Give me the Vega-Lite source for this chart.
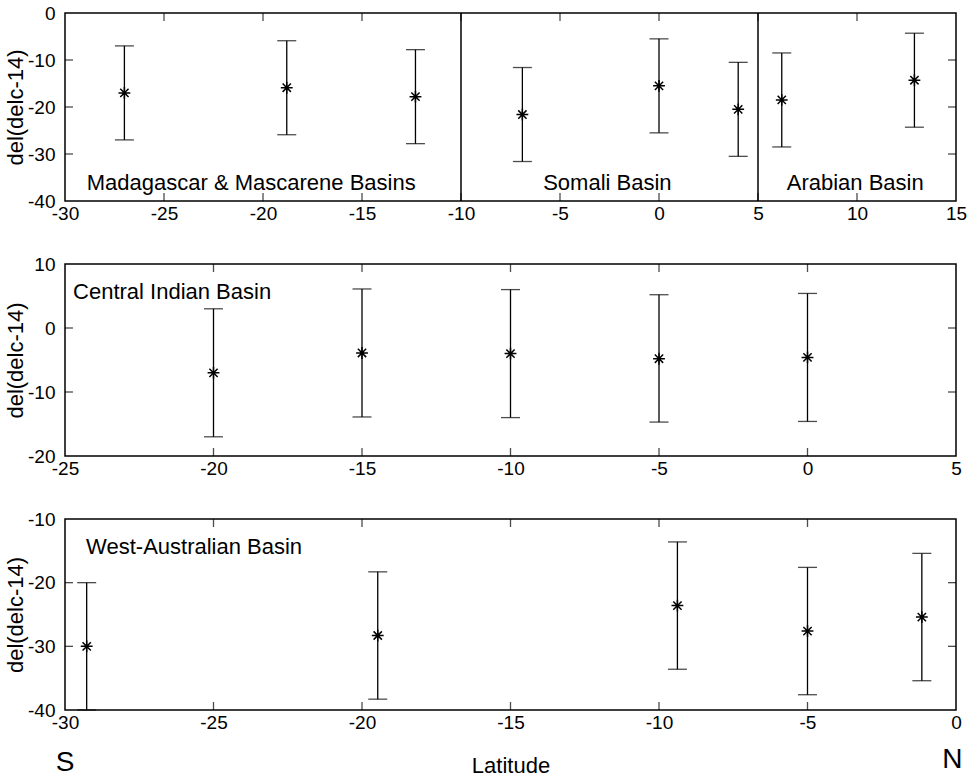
{
  "$schema": "https://vega.github.io/schema/vega-lite/v6.json",
  "background": "white",
  "padding": {"left": 3, "top": 3, "right": 12, "bottom": 2},
  "spacing": 30,
  "config": {
    "font": "Liberation Sans",
    "view": {"stroke": "black", "strokeWidth": 1.5},
    "axis": {
      "grid": false, "domain": false, "ticks": false,
      "labelFontSize": 19, "labelColor": "black", "labelFlush": false, "labelOverlap": false,
      "labelExpr": "datum.value < 0 ? '-' + abs(datum.value) : '' + datum.value",
      "titleFontSize": 22, "titleFontWeight": "normal", "titleColor": "black"
    },
    "axisX": {"labelPadding": 3},
    "axisY": {"labelPadding": 10, "titlePadding": 0},
    "tick": {"thickness": 1.3, "color": "black"}
  },
  "vconcat": [
    {
      "width": 891, "height": 188,
      "data": {"values": [
        {"lat": -27.0, "mean": -17.0, "lo": -27.0, "hi": -7.0},
        {"lat": -18.8, "mean": -15.9, "lo": -25.9, "hi": -5.9},
        {"lat": -12.3, "mean": -17.8, "lo": -27.8, "hi": -7.8},
        {"lat": -6.9, "mean": -21.6, "lo": -31.6, "hi": -11.6},
        {"lat": 0.0, "mean": -15.5, "lo": -25.5, "hi": -5.5},
        {"lat": 4.0, "mean": -20.5, "lo": -30.5, "hi": -10.5},
        {"lat": 6.2, "mean": -18.5, "lo": -28.5, "hi": -8.5},
        {"lat": 12.9, "mean": -14.3, "lo": -24.3, "hi": -4.3}
      ]},
      "encoding": {
        "x": {"type": "quantitative", "scale": {"domain": [-30, 15], "nice": false, "zero": false},
              "axis": {"orient": "bottom", "values": [-30, -25, -20, -15, -10, -5, 0, 5, 10, 15], "title": null}},
        "y": {"type": "quantitative", "scale": {"domain": [-40, 0], "nice": false, "zero": false},
              "axis": {"orient": "left", "values": [-40, -30, -20, -10, 0], "title": "del(delc-14)"}}
      },
      "layer": [
        {
          "mark": {"type": "rule", "color": "black", "strokeWidth": 1.3},
          "encoding": {"x": {"field": "lat"}, "y": {"field": "lo"}, "y2": {"field": "hi"}}
        },
        {"mark": {"type": "tick", "orient": "horizontal", "size": 19}, "encoding": {"x": {"field": "lat"}, "y": {"field": "lo"}}},
        {"mark": {"type": "tick", "orient": "horizontal", "size": 19}, "encoding": {"x": {"field": "lat"}, "y": {"field": "hi"}}},
        {
          "mark": {"type": "point", "shape": "M-1,0L1,0M0,-1L0,1M-0.7,-0.7L0.7,0.7M-0.7,0.7L0.7,-0.7", "filled": false, "stroke": "black", "strokeWidth": 1.5, "size": 140, "opacity": 1},
          "encoding": {"x": {"field": "lat"}, "y": {"field": "mean"}}
        },
        {
          "data": {"values": [{"lat": -10}, {"lat": 5}]},
          "mark": {"type": "rule", "color": "black", "strokeWidth": 1.5},
          "encoding": {"x": {"field": "lat"}}
        },
        {
          "data": {"values": [{"v": -25}, {"v": -20}, {"v": -15}, {"v": -10}, {"v": -5}, {"v": 0}, {"v": 5}, {"v": 10}]},
          "mark": {"type": "tick", "orient": "vertical", "size": 8, "yOffset": -4},
          "encoding": {"x": {"field": "v"}, "y": {"datum": -40}}
        },
        {
          "data": {"values": [{"v": -25}, {"v": -20}, {"v": -15}, {"v": -10}, {"v": -5}, {"v": 0}, {"v": 5}, {"v": 10}]},
          "mark": {"type": "tick", "orient": "vertical", "size": 8, "yOffset": 4},
          "encoding": {"x": {"field": "v"}, "y": {"datum": 0}}
        },
        {
          "data": {"values": [{"v": -30}, {"v": -20}, {"v": -10}]},
          "mark": {"type": "tick", "orient": "horizontal", "size": 8, "xOffset": 4},
          "encoding": {"y": {"field": "v"}, "x": {"datum": -30}}
        },
        {
          "data": {"values": [{"v": -30}, {"v": -20}, {"v": -10}]},
          "mark": {"type": "tick", "orient": "horizontal", "size": 8, "xOffset": -4},
          "encoding": {"y": {"field": "v"}, "x": {"datum": 15}}
        },
        {
          "data": {"values": [
            {"lat": -28.9, "val": -36.1, "label": "Madagascar & Mascarene Basins"},
            {"lat": -5.85, "val": -36.1, "label": "Somali Basin"},
            {"lat": 6.45, "val": -36.1, "label": "Arabian Basin"}
          ]},
          "mark": {"type": "text", "align": "left", "baseline": "middle", "fontSize": 22, "color": "black"},
          "encoding": {"x": {"field": "lat"}, "y": {"field": "val"}, "text": {"field": "label"}}
        }
      ]
    },
    {
      "width": 891, "height": 192,
      "data": {"values": [
        {"lat": -20, "mean": -7.0, "lo": -17.0, "hi": 3.0},
        {"lat": -15, "mean": -3.9, "lo": -13.9, "hi": 6.1},
        {"lat": -10, "mean": -4.0, "lo": -14.0, "hi": 6.0},
        {"lat": -5, "mean": -4.8, "lo": -14.7, "hi": 5.2},
        {"lat": 0, "mean": -4.6, "lo": -14.6, "hi": 5.4}
      ]},
      "encoding": {
        "x": {"type": "quantitative", "scale": {"domain": [-25, 5], "nice": false, "zero": false},
              "axis": {"orient": "bottom", "values": [-25, -20, -15, -10, -5, 0, 5], "title": null}},
        "y": {"type": "quantitative", "scale": {"domain": [-20, 10], "nice": false, "zero": false},
              "axis": {"orient": "left", "values": [-20, -10, 0, 10], "title": "del(delc-14)"}}
      },
      "layer": [
        {
          "mark": {"type": "rule", "color": "black", "strokeWidth": 1.3},
          "encoding": {"x": {"field": "lat"}, "y": {"field": "lo"}, "y2": {"field": "hi"}}
        },
        {"mark": {"type": "tick", "orient": "horizontal", "size": 19}, "encoding": {"x": {"field": "lat"}, "y": {"field": "lo"}}},
        {"mark": {"type": "tick", "orient": "horizontal", "size": 19}, "encoding": {"x": {"field": "lat"}, "y": {"field": "hi"}}},
        {
          "mark": {"type": "point", "shape": "M-1,0L1,0M0,-1L0,1M-0.7,-0.7L0.7,0.7M-0.7,0.7L0.7,-0.7", "filled": false, "stroke": "black", "strokeWidth": 1.5, "size": 140, "opacity": 1},
          "encoding": {"x": {"field": "lat"}, "y": {"field": "mean"}}
        },
        {
          "data": {"values": [{"v": -20}, {"v": -15}, {"v": -10}, {"v": -5}, {"v": 0}]},
          "mark": {"type": "tick", "orient": "vertical", "size": 8, "yOffset": -4},
          "encoding": {"x": {"field": "v"}, "y": {"datum": -20}}
        },
        {
          "data": {"values": [{"v": -20}, {"v": -15}, {"v": -10}, {"v": -5}, {"v": 0}]},
          "mark": {"type": "tick", "orient": "vertical", "size": 8, "yOffset": 4},
          "encoding": {"x": {"field": "v"}, "y": {"datum": 10}}
        },
        {
          "data": {"values": [{"v": -10}, {"v": 0}]},
          "mark": {"type": "tick", "orient": "horizontal", "size": 8, "xOffset": 4},
          "encoding": {"y": {"field": "v"}, "x": {"datum": -25}}
        },
        {
          "data": {"values": [{"v": -10}, {"v": 0}]},
          "mark": {"type": "tick", "orient": "horizontal", "size": 8, "xOffset": -4},
          "encoding": {"y": {"field": "v"}, "x": {"datum": 5}}
        },
        {
          "data": {"values": [{"lat": -24.73, "val": 5.6, "label": "Central Indian Basin"}]},
          "mark": {"type": "text", "align": "left", "baseline": "middle", "fontSize": 22, "color": "black"},
          "encoding": {"x": {"field": "lat"}, "y": {"field": "val"}, "text": {"field": "label"}}
        }
      ]
    },
    {
      "width": 891, "height": 191,
      "data": {"values": [
        {"lat": -29.27, "mean": -30.0, "lo": -40.0, "hi": -20.0},
        {"lat": -19.47, "mean": -28.3, "lo": -38.3, "hi": -18.3},
        {"lat": -9.38, "mean": -23.6, "lo": -33.6, "hi": -13.6},
        {"lat": -5.0, "mean": -27.6, "lo": -37.6, "hi": -17.6},
        {"lat": -1.15, "mean": -25.4, "lo": -35.4, "hi": -15.4}
      ]},
      "encoding": {
        "x": {"type": "quantitative", "scale": {"domain": [-30, 0], "nice": false, "zero": false},
              "axis": {"orient": "bottom", "values": [-30, -25, -20, -15, -10, -5, 0], "title": "Latitude", "titleY": 55, "titleBaseline": "middle"}},
        "y": {"type": "quantitative", "scale": {"domain": [-40, -10], "nice": false, "zero": false},
              "axis": {"orient": "left", "values": [-40, -30, -20, -10], "title": "del(delc-14)"}}
      },
      "layer": [
        {
          "mark": {"type": "rule", "color": "black", "strokeWidth": 1.3},
          "encoding": {"x": {"field": "lat"}, "y": {"field": "lo"}, "y2": {"field": "hi"}}
        },
        {"mark": {"type": "tick", "orient": "horizontal", "size": 19}, "encoding": {"x": {"field": "lat"}, "y": {"field": "lo"}}},
        {"mark": {"type": "tick", "orient": "horizontal", "size": 19}, "encoding": {"x": {"field": "lat"}, "y": {"field": "hi"}}},
        {
          "mark": {"type": "point", "shape": "M-1,0L1,0M0,-1L0,1M-0.7,-0.7L0.7,0.7M-0.7,0.7L0.7,-0.7", "filled": false, "stroke": "black", "strokeWidth": 1.5, "size": 140, "opacity": 1},
          "encoding": {"x": {"field": "lat"}, "y": {"field": "mean"}}
        },
        {
          "data": {"values": [{"v": -25}, {"v": -20}, {"v": -15}, {"v": -10}, {"v": -5}]},
          "mark": {"type": "tick", "orient": "vertical", "size": 8, "yOffset": -4},
          "encoding": {"x": {"field": "v"}, "y": {"datum": -40}}
        },
        {
          "data": {"values": [{"v": -25}, {"v": -20}, {"v": -15}, {"v": -10}, {"v": -5}]},
          "mark": {"type": "tick", "orient": "vertical", "size": 8, "yOffset": 4},
          "encoding": {"x": {"field": "v"}, "y": {"datum": -10}}
        },
        {
          "data": {"values": [{"v": -30}, {"v": -20}]},
          "mark": {"type": "tick", "orient": "horizontal", "size": 8, "xOffset": 4},
          "encoding": {"y": {"field": "v"}, "x": {"datum": -30}}
        },
        {
          "data": {"values": [{"v": -30}, {"v": -20}]},
          "mark": {"type": "tick", "orient": "horizontal", "size": 8, "xOffset": -4},
          "encoding": {"y": {"field": "v"}, "x": {"datum": 0}}
        },
        {
          "data": {"values": [{"lat": -29.29, "val": -14.35, "label": "West-Australian Basin"}]},
          "mark": {"type": "text", "align": "left", "baseline": "middle", "fontSize": 22, "color": "black"},
          "encoding": {"x": {"field": "lat"}, "y": {"field": "val"}, "text": {"field": "label"}}
        },
        {
          "data": {"values": [{"lat": -30, "val": -48.4, "label": "S"}, {"lat": -0.12, "val": -47.9, "label": "N"}]},
          "mark": {"type": "text", "align": "center", "baseline": "middle", "fontSize": 28, "color": "black"},
          "encoding": {"x": {"field": "lat"}, "y": {"field": "val"}, "text": {"field": "label"}}
        }
      ]
    }
  ]
}
